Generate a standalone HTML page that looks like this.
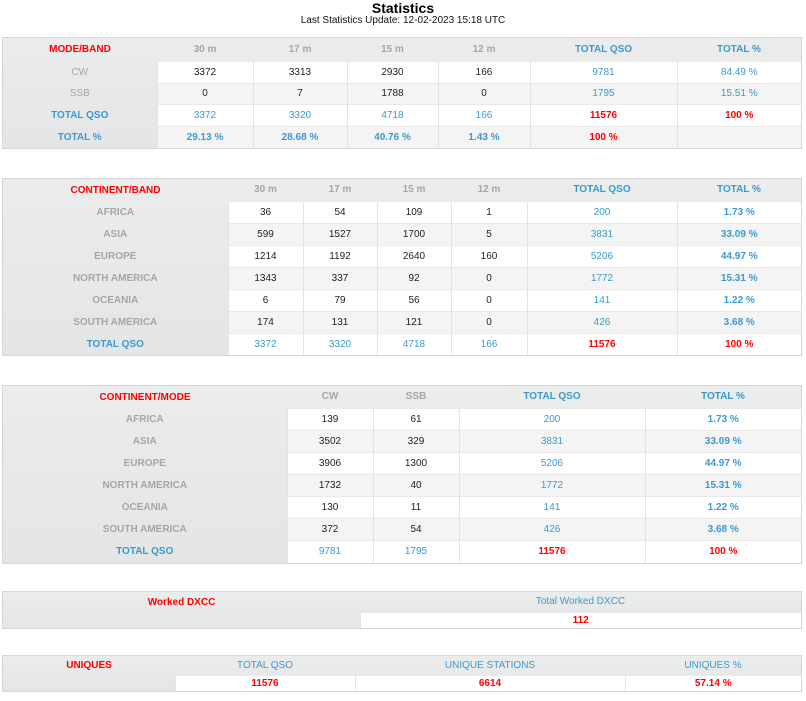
<!DOCTYPE html>
<html><head><meta charset="utf-8"><style>
body{margin:0;width:806px;height:701px;background:#fff;font-family:"Liberation Sans",Arial,sans-serif;position:relative;overflow:hidden}
.t{position:absolute;left:3px;width:798px;border-collapse:collapse;table-layout:fixed;background:linear-gradient(#ebecec,#e4e5e6);box-shadow:0 0 0 1px #d6d6d6}
.t td{text-align:center;padding:0;font-size:10px;overflow:hidden;white-space:nowrap}
.h td{font-weight:bold;color:#a6a6a6}
.lab{font-weight:bold;color:#a6a6a6}
.d{background:#fff;color:#222;border-left:1px solid #e3e3e3;border-top:1px solid #eaeaea}
.d2{background:#f4f4f4;color:#222;border-left:1px solid #e3e3e3;border-top:1px solid #e8e8e8}
.b{color:#3a9ad0!important}
.r{color:#f00!important;font-weight:bold}
.bb{font-weight:bold}
h1{position:absolute;top:0;left:0;width:806px;text-align:center;margin:0;font-size:14px;font-weight:bold;color:#000}
.sub{position:absolute;top:15px;left:0;width:806px;text-align:center;font-size:10px;color:#111}
</style></head><body>
<h1>Statistics</h1>
<div class="sub">Last Statistics Update: 12-02-2023 15:18 UTC</div>

<table class="t" style="top:38px">
<colgroup><col style="width:154px"><col style="width:96px"><col style="width:94px"><col style="width:91px"><col style="width:92px"><col style="width:147px"><col style="width:124px"></colgroup>
<tr class="h" style="height:23px"><td class="r">MODE/BAND</td><td>30 m</td><td>17 m</td><td>15 m</td><td>12 m</td><td class="b">TOTAL QSO</td><td class="b">TOTAL %</td></tr>
<tr style="height:22px"><td class="lab" style="font-weight:normal">CW</td><td class="d">3372</td><td class="d">3313</td><td class="d">2930</td><td class="d">166</td><td class="d b">9781</td><td class="d b">84.49 %</td></tr>
<tr style="height:21px"><td class="lab" style="font-weight:normal">SSB</td><td class="d2">0</td><td class="d2">7</td><td class="d2">1788</td><td class="d2">0</td><td class="d2 b">1795</td><td class="d2 b">15.51 %</td></tr>
<tr style="height:22px"><td class="lab b">TOTAL QSO</td><td class="d b">3372</td><td class="d b">3320</td><td class="d b">4718</td><td class="d b">166</td><td class="d r">11576</td><td class="d r">100 %</td></tr>
<tr style="height:22px"><td class="lab b">TOTAL %</td><td class="d2 b bb">29.13 %</td><td class="d2 b bb">28.68 %</td><td class="d2 b bb">40.76 %</td><td class="d2 b bb">1.43 %</td><td class="d2 r">100 %</td><td class="d2"></td></tr>
</table>

<table class="t" style="top:179px">
<colgroup><col style="width:225px"><col style="width:75px"><col style="width:74px"><col style="width:74px"><col style="width:76px"><col style="width:150px"><col style="width:124px"></colgroup>
<tr class="h" style="height:22px"><td class="r">CONTINENT/BAND</td><td>30 m</td><td>17 m</td><td>15 m</td><td>12 m</td><td class="b">TOTAL QSO</td><td class="b">TOTAL %</td></tr>
<tr style="height:22px"><td class="lab">AFRICA</td><td class="d">36</td><td class="d">54</td><td class="d">109</td><td class="d">1</td><td class="d b">200</td><td class="d b bb">1.73 %</td></tr>
<tr style="height:22px"><td class="lab">ASIA</td><td class="d2">599</td><td class="d2">1527</td><td class="d2">1700</td><td class="d2">5</td><td class="d2 b">3831</td><td class="d2 b bb">33.09 %</td></tr>
<tr style="height:22px"><td class="lab">EUROPE</td><td class="d">1214</td><td class="d">1192</td><td class="d">2640</td><td class="d">160</td><td class="d b">5206</td><td class="d b bb">44.97 %</td></tr>
<tr style="height:22px"><td class="lab">NORTH AMERICA</td><td class="d2">1343</td><td class="d2">337</td><td class="d2">92</td><td class="d2">0</td><td class="d2 b">1772</td><td class="d2 b bb">15.31 %</td></tr>
<tr style="height:22px"><td class="lab">OCEANIA</td><td class="d">6</td><td class="d">79</td><td class="d">56</td><td class="d">0</td><td class="d b">141</td><td class="d b bb">1.22 %</td></tr>
<tr style="height:22px"><td class="lab">SOUTH AMERICA</td><td class="d2">174</td><td class="d2">131</td><td class="d2">121</td><td class="d2">0</td><td class="d2 b">426</td><td class="d2 b bb">3.68 %</td></tr>
<tr style="height:22px"><td class="lab b">TOTAL QSO</td><td class="d b">3372</td><td class="d b">3320</td><td class="d b">4718</td><td class="d b">166</td><td class="d r">11576</td><td class="d r">100 %</td></tr>
</table>

<table class="t" style="top:386px">
<colgroup><col style="width:284px"><col style="width:86px"><col style="width:86px"><col style="width:186px"><col style="width:156px"></colgroup>
<tr class="h" style="height:22px"><td class="r">CONTINENT/MODE</td><td>CW</td><td>SSB</td><td class="b">TOTAL QSO</td><td class="b">TOTAL %</td></tr>
<tr style="height:22px"><td class="lab">AFRICA</td><td class="d">139</td><td class="d">61</td><td class="d b">200</td><td class="d b bb">1.73 %</td></tr>
<tr style="height:22px"><td class="lab">ASIA</td><td class="d2">3502</td><td class="d2">329</td><td class="d2 b">3831</td><td class="d2 b bb">33.09 %</td></tr>
<tr style="height:22px"><td class="lab">EUROPE</td><td class="d">3906</td><td class="d">1300</td><td class="d b">5206</td><td class="d b bb">44.97 %</td></tr>
<tr style="height:22px"><td class="lab">NORTH AMERICA</td><td class="d2">1732</td><td class="d2">40</td><td class="d2 b">1772</td><td class="d2 b bb">15.31 %</td></tr>
<tr style="height:22px"><td class="lab">OCEANIA</td><td class="d">130</td><td class="d">11</td><td class="d b">141</td><td class="d b bb">1.22 %</td></tr>
<tr style="height:22px"><td class="lab">SOUTH AMERICA</td><td class="d2">372</td><td class="d2">54</td><td class="d2 b">426</td><td class="d2 b bb">3.68 %</td></tr>
<tr style="height:23px"><td class="lab b">TOTAL QSO</td><td class="d b">9781</td><td class="d b">1795</td><td class="d r">11576</td><td class="d r">100 %</td></tr>
</table>

<table class="t" style="top:592px">
<colgroup><col style="width:357px"><col style="width:441px"></colgroup>
<tr style="height:20px"><td class="r">Worked DXCC</td><td class="b">Total Worked DXCC</td></tr>
<tr style="height:16px"><td></td><td class="d r">112</td></tr>
</table>

<table class="t" style="top:656px">
<colgroup><col style="width:172px"><col style="width:180px"><col style="width:270px"><col style="width:176px"></colgroup>
<tr style="height:19px"><td class="r">UNIQUES</td><td class="b">TOTAL QSO</td><td class="b">UNIQUE STATIONS</td><td class="b">UNIQUES %</td></tr>
<tr style="height:16px"><td></td><td class="d r">11576</td><td class="d r">6614</td><td class="d r">57.14 %</td></tr>
</table>
</body></html>
